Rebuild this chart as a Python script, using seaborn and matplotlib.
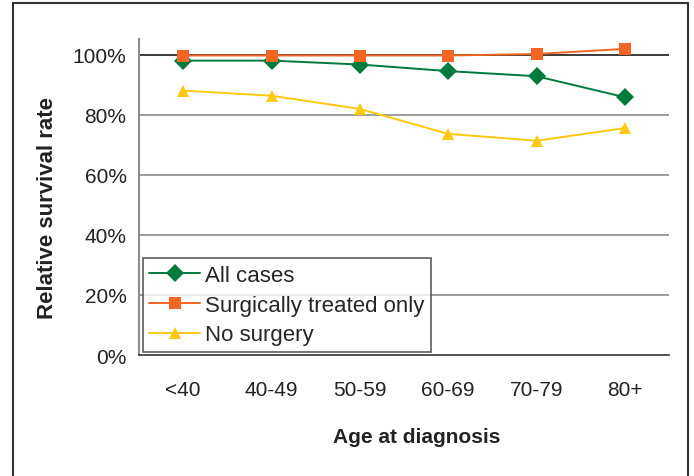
import matplotlib
matplotlib.use("Agg")
import matplotlib.pyplot as plt
from matplotlib.lines import Line2D
from matplotlib.ticker import FixedLocator, PercentFormatter
import pandas as pd
import seaborn as sns

# data
age_groups = ["<40", "40-49", "50-59", "60-69", "70-79", "80+"]
all_cases = [98.1, 98.1, 96.8, 94.6, 92.9, 85.9]
surgical_only = [99.8, 99.8, 99.8, 99.8, 100.3, 102.0]
no_surgery = [88.1, 86.4, 82.0, 73.7, 71.4, 75.6]

series_names = ["All cases", "Surgically treated only", "No surgery"]
palette = {"All cases": "#007A3D",
           "Surgically treated only": "#F26522",
           "No surgery": "#FFC90E"}
markers = {"All cases": "D", "Surgically treated only": "s", "No surgery": "^"}

rows = []
for name, vals in zip(series_names, [all_cases, surgical_only, no_surgery]):
    for i, v in enumerate(vals):
        rows.append({"age": i, "label": age_groups[i], "rate": v, "series": name})
df = pd.DataFrame(rows)

sns.set_style("white")
plt.rcParams["font.family"] = ["Liberation Sans", "DejaVu Sans"]

fig = plt.figure(figsize=(6.94, 4.77), dpi=100)
ax = fig.add_axes([139 / 694, 121 / 477, 530 / 694, 316 / 477])

sns.lineplot(data=df, x="age", y="rate", hue="series", style="series",
             hue_order=series_names, style_order=series_names,
             palette=palette, markers=markers, dashes=False,
             markersize=9, markeredgewidth=0, linewidth=1.4, ax=ax)

# gridlines, 100% drawn darker
for v in [20, 40, 60, 80]:
    ax.axhline(v, color="#8c8c8c", lw=1.2, zorder=0)
ax.axhline(100, color="#1a1a1a", lw=1.2, zorder=0)

ax.set_xlim(-0.5, 5.5)
ax.set_ylim(0, 105.3)
ax.yaxis.set_major_locator(FixedLocator([0, 20, 40, 60, 80, 100]))
ax.yaxis.set_major_formatter(PercentFormatter(decimals=0))
ax.set_xticks(range(len(age_groups)))
ax.set_xticklabels(age_groups)
ax.xaxis.set_minor_locator(FixedLocator([i - 0.5 for i in range(len(age_groups) + 1)]))

ax.tick_params(axis="x", which="major", length=0, pad=18, labelsize=15, colors="#222222")
ax.tick_params(axis="x", which="minor", length=8, width=1, color="#333333", direction="out")
ax.tick_params(axis="y", which="major", length=6, width=1, color="#333333", direction="out",
               pad=3, labelsize=15, labelcolor="#222222")

for side in ["top", "right"]:
    ax.spines[side].set_visible(False)
ax.spines["left"].set_color("#8c8c8c")
ax.spines["left"].set_linewidth(1.5)
ax.spines["bottom"].set_color("#333333")
ax.spines["bottom"].set_linewidth(1.2)

ax.set_xlabel("Age at diagnosis", fontsize=15, fontweight="bold", color="#222222")
ax.set_ylabel("Relative survival rate", fontsize=16, fontweight="bold", color="#222222")
ax.xaxis.set_label_coords(0.523, -0.228)
ax.yaxis.set_label_coords(-0.153, 0.468)

leg = ax.legend(loc="lower left", bbox_to_anchor=(0.007, 0.009), fontsize=16,
                frameon=True, fancybox=False, edgecolor="#333333",
                borderpad=0.3, labelspacing=0.4, handlelength=2.3, handletextpad=0.2,
                borderaxespad=0)
leg.get_frame().set_linewidth(1.2)

# outer border of the figure (open at the bottom)
border = dict(color="#333333", lw=1.5, transform=fig.transFigure)
fig.add_artist(Line2D([13 / 694, 13 / 694], [0, 1 - 4 / 477], **border))
fig.add_artist(Line2D([13 / 694, 688 / 694], [1 - 4 / 477, 1 - 4 / 477], **border))
fig.add_artist(Line2D([688 / 694, 688 / 694], [0, 1 - 4 / 477], **border))

fig.savefig("out.png", dpi=100)
